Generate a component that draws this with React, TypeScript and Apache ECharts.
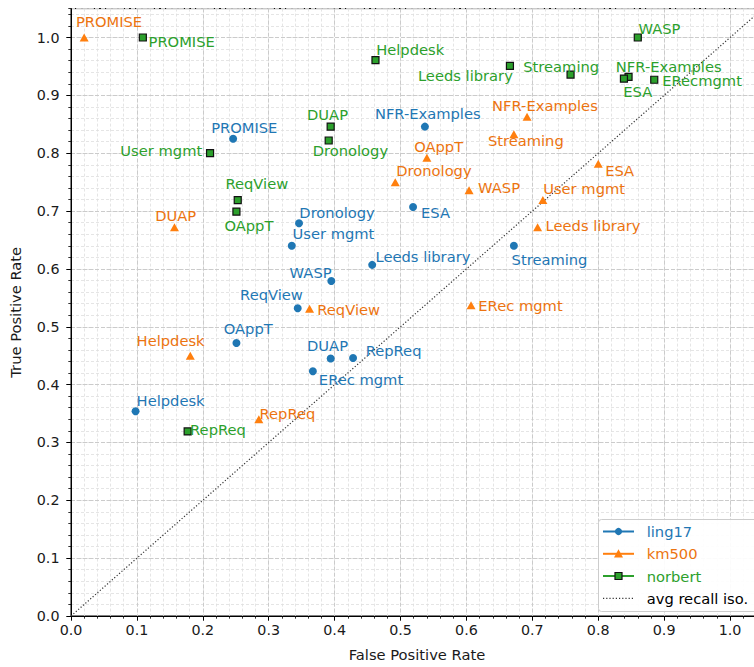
import React, { useEffect, useRef } from 'react';
import * as echarts from 'echarts';

// ---------------- data ----------------
const ling17Names = ['PROMISE', 'NFR-Examples', 'ESA', 'Dronology', 'User mgmt', 'Leeds library', 'WASP', 'Streaming', 'ReqView', 'OAppT', 'DUAP', 'RepReq', 'ERec mgmt', 'Helpdesk'];
const ling17FPR = [0.246, 0.537, 0.519, 0.346, 0.335, 0.457, 0.395, 0.672, 0.344, 0.251, 0.394, 0.428, 0.367, 0.098];
const ling17TPR = [0.825, 0.846, 0.707, 0.679, 0.640, 0.607, 0.579, 0.640, 0.532, 0.472, 0.445, 0.446, 0.423, 0.354];

const km500Names = ['PROMISE', 'NFR-Examples', 'Streaming', 'OAppT', 'ESA', 'Dronology', 'WASP', 'User mgmt', 'DUAP', 'Leeds library', 'ReqView', 'ERec mgmt', 'Helpdesk', 'RepReq'];
const km500FPR = [0.020, 0.692, 0.672, 0.540, 0.800, 0.492, 0.604, 0.716, 0.157, 0.708, 0.362, 0.607, 0.181, 0.285];
const km500TPR = [1.000, 0.863, 0.833, 0.792, 0.782, 0.750, 0.736, 0.719, 0.672, 0.672, 0.531, 0.537, 0.450, 0.340];

const norbertNames = ['PROMISE', 'WASP', 'Helpdesk', 'Leeds library', 'Streaming', 'NFR-Examples', 'ESA', 'ERecmgmt', 'DUAP', 'Dronology', 'User mgmt', 'ReqView', 'OAppT', 'RepReq'];
const norbertFPR = [0.109, 0.860, 0.462, 0.666, 0.758, 0.846, 0.839, 0.885, 0.394, 0.391, 0.211, 0.253, 0.251, 0.177];
const norbertTPR = [1.000, 1.000, 0.961, 0.951, 0.936, 0.932, 0.929, 0.927, 0.846, 0.822, 0.800, 0.719, 0.699, 0.319];

const isoLine = [[0, 0], [1.05, 1.05]];

const legendLabels = ['ling17', 'km500', 'norbert', 'avg recall iso.'];

// ---------------- layout (label offsets in px, left edge / middle relative to marker) ----------------
const ling17LabelOffsets = [[-22, -11.6], [-50, -13.3], [8, 5.7], [0.3, -10.3], [0.7, -12], [3.3, -8], [-41.7, -8.6], [-2.3, 13.7], [-57.6, -14], [-12.7, -14], [-23.6, -12.6], [12.6, -7], [6, 7.7], [1, -10.4]];
const km500LabelOffsets = [[-8.3, -15.6], [-35, -11.3], [-26, 6.7], [-12.7, -11], [7, 6.7], [1, -11.6], [9, -2.7], [0.3, -11.7], [-19.3, -12], [8, -2], [7.7, 0.4], [7.3, 0.3], [-53.7, -15.6], [0.7, -6.3]];
const norbertLabelOffsets = [[5.7, 3.7], [0.7, -9], [0.7, -10.3], [-92, 9.7], [-47.3, -8.3], [-12.7, -10.6], [-0.6, 12.7], [8, 0.7], [-23.6, -12.3], [-16, 9.7], [-89.7, -2.3], [-12.3, -16.7], [-12, 14], [2.4, -2]];

const BLUE = '#1f77b4';
const ORANGE = '#ff7f0e';
const ORANGE_TEXT = '#ec7410';
const GREEN = '#2ca02c';
const FONT = '"DejaVu Sans", "Liberation Sans", sans-serif';
const LABEL_SIZE = 14.7;

function buildData(xs: number[], ys: number[], names: string[], offsets: number[][]) {
  return xs.map((x, i) => ({
    value: [x, ys[i]],
    name: names[i],
    label: { offset: offsets[i] },
  }));
}

function labelCfg(color: string) {
  return {
    show: true,
    position: 'inside',
    align: 'left',
    verticalAlign: 'middle',
    formatter: '{b}',
    color,
    fontSize: LABEL_SIZE,
    fontFamily: FONT,
    textBorderWidth: 0,
    textShadowBlur: 0,
  };
}

function majorAxis(name: string, isX: boolean) {
  return {
    type: 'value',
    min: 0,
    max: 1.05,
    interval: 0.1,
    position: isX ? 'bottom' : 'left',
    z: 2,
    axisLine: { show: true, onZero: false, lineStyle: { color: '#000', width: 1 } },
    axisTick: { show: true, inside: false, length: 4.7, lineStyle: { color: '#000', width: 1 } },
    axisLabel: {
      show: true,
      margin: isX ? 7 : 11.5,
      color: '#1a1a1a',
      fontSize: 14.3,
      fontFamily: FONT,
      showMaxLabel: false,
      formatter: (v: number) => v.toFixed(1),
    },
    splitLine: { show: true, lineStyle: { color: '#cbcbcb', width: 1, type: [4, 2] } },
    name,
    nameLocation: 'middle',
    nameGap: isX ? 31 : 48,
    nameTextStyle: { color: '#1a1a1a', fontSize: 14.7, fontFamily: FONT },
  };
}

function minorAxis(isX: boolean) {
  return {
    type: 'value',
    min: 0,
    max: 1.05,
    interval: 0.02,
    position: isX ? 'bottom' : 'left',
    z: 1,
    axisLine: { show: false, onZero: false },
    axisTick: { show: true, inside: false, length: 2.7, lineStyle: { color: '#000', width: 0.8 } },
    axisLabel: { show: false },
    splitLine: { show: true, lineStyle: { color: '#dedede', width: 0.8, type: [3, 2] } },
  };
}

function legendGraphics() {
  const rows = [531.5, 553.8, 576, 598.3];
  const colors = [BLUE, ORANGE, GREEN, '#333'];
  const textColors = [BLUE, ORANGE_TEXT, GREEN, '#000'];
  const els: any[] = [
    {
      type: 'rect',
      z: 100,
      shape: { x: 598.5, y: 519.5, width: 170, height: 92, r: 3 },
      style: { fill: 'rgba(255,255,255,0.92)', stroke: '#cccccc', lineWidth: 1 },
    },
  ];
  rows.forEach((y, i) => {
    const isIso = i === 3;
    els.push({
      type: 'line',
      z: 101,
      shape: { x1: 603, y1: y, x2: 634, y2: y },
      style: isIso
        ? { stroke: '#333', lineWidth: 1.2, lineDash: [1.2, 2] }
        : { stroke: colors[i], lineWidth: 2 },
    });
    if (i === 0) {
      els.push({ type: 'circle', z: 102, shape: { cx: 618.5, cy: y, r: 3.6 }, style: { fill: BLUE } });
    } else if (i === 1) {
      els.push({
        type: 'polygon',
        z: 102,
        shape: { points: [[618.5, y - 4.5], [614, y + 3.8], [623, y + 3.8]] },
        style: { fill: ORANGE },
      });
    } else if (i === 2) {
      els.push({
        type: 'rect',
        z: 102,
        shape: { x: 615, y: y - 3.5, width: 7, height: 7 },
        style: { fill: GREEN, stroke: '#111', lineWidth: 1.2 },
      });
    }
    els.push({
      type: 'text',
      z: 103,
      x: 646.7,
      y,
      style: {
        text: legendLabels[i],
        fill: textColors[i],
        fontSize: 14.7,
        fontFamily: FONT,
        align: 'left',
        verticalAlign: 'middle',
      },
    });
  });
  return els;
}

export default function App() {
  const ref = useRef<HTMLDivElement>(null);

  useEffect(() => {
    if (!ref.current) return;
    const chart = echarts.init(ref.current, undefined, { renderer: 'svg' });
    const option: any = {
      animation: false,
      backgroundColor: '#ffffff',
      textStyle: { fontFamily: FONT },
      grid: {
        left: 67,
        right: 1,
        top: 8.6,
        bottom: 47.7,
        show: true,
        borderColor: '#000',
        borderWidth: 1,
        backgroundColor: 'transparent',
        containLabel: false,
      },
      xAxis: [majorAxis('False Positive Rate', true), minorAxis(true)],
      yAxis: [majorAxis('True Positive Rate', false), minorAxis(false)],
      series: [
        {
          type: 'line',
          name: 'avg recall iso.',
          data: isoLine,
          xAxisIndex: 0,
          yAxisIndex: 0,
          symbol: 'none',
          silent: true,
          z: 3,
          lineStyle: { color: '#333', width: 1.2, type: [1.2, 2] },
        },
        {
          type: 'scatter',
          name: 'ling17',
          xAxisIndex: 0,
          yAxisIndex: 0,
          data: buildData(ling17FPR, ling17TPR, ling17Names, ling17LabelOffsets),
          symbol: 'circle',
          symbolSize: 8,
          itemStyle: { color: BLUE, opacity: 1 },
          label: labelCfg(BLUE),
          z: 5,
        },
        {
          type: 'scatter',
          name: 'km500',
          xAxisIndex: 0,
          yAxisIndex: 0,
          data: buildData(km500FPR, km500TPR, km500Names, km500LabelOffsets),
          symbol: 'triangle',
          symbolSize: [9, 8],
          itemStyle: { color: ORANGE, opacity: 1 },
          label: labelCfg(ORANGE_TEXT),
          z: 6,
        },
        {
          type: 'scatter',
          name: 'norbert',
          xAxisIndex: 0,
          yAxisIndex: 0,
          data: buildData(norbertFPR, norbertTPR, norbertNames, norbertLabelOffsets),
          symbol: 'rect',
          symbolSize: 7,
          itemStyle: { color: GREEN, borderColor: '#111', borderWidth: 1.2, opacity: 1 },
          label: labelCfg(GREEN),
          z: 7,
        },
      ],
      graphic: legendGraphics(),
    };
    chart.setOption(option);
    return () => chart.dispose();
  }, []);

  return (
    <div
      style={{
        position: 'fixed',
        left: 0,
        top: 0,
        width: 754,
        height: 667,
        overflow: 'hidden',
        background: '#fff',
      }}
    >
      <div ref={ref} style={{ width: 764, height: 667 }} />
    </div>
  );
}
